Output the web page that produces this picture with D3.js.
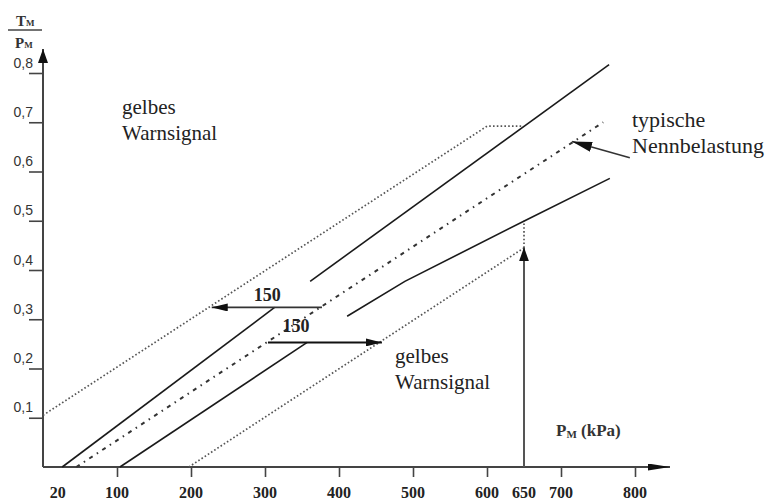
<!DOCTYPE html>
<html>
<head>
<meta charset="utf-8">
<script src="https://cdn.jsdelivr.net/npm/d3@7"></script>
<style>
  body { margin: 0; background: #fff; }
  svg { display: block; }
  .serif { font-family: "Liberation Serif", "Times New Roman", serif; }
</style>
</head>
<body>
<div id="my_dataviz"></div>
<script>
// tick values and labels
var yTicks = [0.1, 0.2, 0.3, 0.4, 0.5, 0.6, 0.7, 0.8];
var xTicks = [100, 200, 300, 400, 500, 600, 700, 800];
var xLabels = [20, 100, 200, 300, 400, 500, 600, 650, 700, 800];

// lines, [P_M, T_M/P_M]
var upperDotted = [[0, 0.105], [600, 0.692], [647, 0.692]];
var upperSolidA = [[26, 0], [313, 0.324]];
var upperSolidB = [[361, 0.377], [765, 0.817]];
var nominalLine = [[45, 0], [757, 0.70]];
var lowerSolidA = [[104, 0], [357, 0.253]];
var lowerSolidB = [[411, 0.306], [489, 0.377], [651, 0.50], [766, 0.586]];
var lowerDotted = [[197, 0], [650, 0.445]];
var limitGuide = [[650, 0.445], [650, 0.50]];

// arrows, [from, to]
var shiftLeft = [[377, 0.324], [228, 0.324]];
var shiftRight = [[304, 0.253], [458, 0.253]];
var limitArrow = [[650, 0], [650, 0.446]];
var nominalArrow = [[793, 0.628], [715, 0.661]];

var shiftText = ["150", "150"];
var warnText = ["gelbes", "Warnsignal"];
var nominalText = ["typische", "Nennbelastung"];

// set the dimensions and margins of the graph
var margin = {top: 73, right: 136, bottom: 35, left: 43},
    width = 771 - margin.left - margin.right,
    height = 502 - margin.top - margin.bottom;

var svg = d3.select("#my_dataviz")
            .append("svg")
              .attr("width", width + margin.left + margin.right)
              .attr("height", height + margin.top + margin.bottom);

var defs = svg.append("defs");
function marker(id, len, half) {
  defs.append("marker")
      .attr("id", id)
      .attr("viewBox", "0 " + (-half) + " " + len + " " + (2 * half))
      .attr("refX", len).attr("refY", 0)
      .attr("markerWidth", len).attr("markerHeight", 2 * half)
      .attr("markerUnits", "userSpaceOnUse")
      .attr("orient", "auto")
    .append("path")
      .attr("d", "M0," + (-half) + "L" + len + ",0L0," + half + "Z")
      .attr("fill", "#111");
}
marker("head", 16, 4);
marker("bighead", 20, 5);
marker("axhead", 22, 3.5);
marker("yhead", 14, 5);

var g = svg.append("g")
           .attr("transform", "translate(" + margin.left + "," + margin.top + ")");

var x = d3.scaleLinear().domain([0, 800]).range([0, width]);
var y = d3.scaleLinear().domain([0, 0.8]).range([height, 0]);

var comma = d3.formatLocale({decimal: ",", thousands: ".", grouping: [3], currency: ["", ""]}).format(".1f");

// y axis
var yAxis = g.append("g")
   .call(d3.axisLeft(y).tickValues(yTicks).tickSize(14).tickFormat(comma));
yAxis.select(".domain").remove();
yAxis.selectAll("line").attr("stroke", "#444").attr("stroke-width", 1.6);
yAxis.selectAll("text")
     .attr("x", -10).attr("y", -6).attr("dy", null)
     .style("font-family", "Arial, 'Liberation Sans', sans-serif")
     .style("font-size", "14px")
     .attr("fill", "#333");

// x axis
var xAxis = g.append("g")
   .attr("transform", "translate(0," + height + ")")
   .call(d3.axisBottom(x).tickValues(xTicks).tickSize(10).tickFormat(""));
xAxis.select(".domain").remove();
xAxis.selectAll("line").attr("stroke", "#444").attr("stroke-width", 1.6);

g.append("g").selectAll("text")
  .data(xLabels)
  .enter().append("text")
    .attr("class", "serif")
    .attr("x", function (d) { return x(d); })
    .attr("y", height + 31)
    .attr("text-anchor", "middle")
    .style("font-size", "16px")
    .style("font-weight", "bold")
    .attr("fill", "#222")
    .text(function (d) { return d; });

// axis lines with arrows
g.append("line")
  .attr("x1", 0).attr("y1", height).attr("x2", 0).attr("y2", -24)
  .attr("stroke", "#444").attr("stroke-width", 2)
  .attr("marker-end", "url(#yhead)");
g.append("line")
  .attr("x1", 0).attr("y1", height).attr("x2", 627).attr("y2", height)
  .attr("stroke", "#444").attr("stroke-width", 2)
  .attr("marker-end", "url(#axhead)");

// curves
var line = d3.line()
  .x(function (d) { return x(d[0]); })
  .y(function (d) { return y(d[1]); });

function drawLine(data, style) {
  var p = g.append("path")
    .datum(data)
    .attr("d", line)
    .attr("fill", "none");
  if (style === "dotted") {
    p.attr("stroke", "#555").attr("stroke-width", 1.7).attr("stroke-dasharray", "1.6,2.2");
  } else if (style === "dashdot") {
    p.attr("stroke", "#333").attr("stroke-width", 2).attr("stroke-dasharray", "4,5,1.5,5");
  } else {
    p.attr("stroke", "#1a1a1a").attr("stroke-width", 1.6);
  }
}

drawLine(upperDotted, "dotted");
drawLine(lowerDotted, "dotted");
drawLine(limitGuide, "dotted");
drawLine(nominalLine, "dashdot");
drawLine(upperSolidA, "solid");
drawLine(upperSolidB, "solid");
drawLine(lowerSolidA, "solid");
drawLine(lowerSolidB, "solid");

// arrows
function drawArrow(a, head, color, w) {
  g.append("line")
    .attr("x1", x(a[0][0])).attr("y1", y(a[0][1]))
    .attr("x2", x(a[1][0])).attr("y2", y(a[1][1]))
    .attr("stroke", color).attr("stroke-width", w)
    .attr("marker-end", "url(#" + head + ")");
}
drawArrow(shiftLeft, "head", "#333", 1.8);
drawArrow(shiftRight, "head", "#111", 2);
drawArrow(limitArrow, "yhead", "#555", 2);
drawArrow(nominalArrow, "bighead", "#333", 1.6);

// "150" labels above the shift arrows
g.append("text").attr("class", "serif")
  .attr("x", x(303)).attr("y", y(shiftLeft[0][1]) - 6)
  .attr("text-anchor", "middle")
  .style("font-size", "18px").style("font-weight", "bold").attr("fill", "#222")
  .text(shiftText[0]);
g.append("text").attr("class", "serif")
  .attr("x", x(342)).attr("y", y(shiftRight[0][1]) - 10)
  .attr("text-anchor", "middle")
  .style("font-size", "18px").style("font-weight", "bold").attr("fill", "#222")
  .text(shiftText[1]);

// region labels
function twoLines(lines, px, py, size) {
  var t = svg.append("text").attr("class", "serif")
    .style("font-size", size + "px").attr("fill", "#222");
  lines.forEach(function (s, i) {
    t.append("tspan").attr("x", px).attr("y", py + i * 26).text(s);
  });
}
twoLines(warnText, 122, 114, 21);
twoLines(warnText, 395, 363, 21);
twoLines(nominalText, 632, 127, 22);

// axis titles
var yt = svg.append("g").attr("class", "serif")
  .style("font-weight", "bold").attr("fill", "#333");
var t1 = yt.append("text").attr("x", 16).attr("y", 26).style("font-size", "15px");
t1.append("tspan").text("T");
t1.append("tspan").style("font-size", "9px").text("M");
yt.append("line").attr("x1", 8).attr("x2", 42).attr("y1", 30).attr("y2", 30)
  .attr("stroke", "#444").attr("stroke-width", 1.5);
var t2 = yt.append("text").attr("x", 15).attr("y", 48).style("font-size", "15px");
t2.append("tspan").text("P");
t2.append("tspan").style("font-size", "9px").text("M");

var xt = svg.append("text").attr("class", "serif")
  .attr("x", 556).attr("y", 436)
  .style("font-weight", "bold").style("font-size", "17px").attr("fill", "#333");
xt.append("tspan").text("P");
xt.append("tspan").style("font-size", "11px").attr("dy", 2).text("M");
xt.append("tspan").attr("dy", -2).text(" (kPa)");
</script>
</body>
</html>
